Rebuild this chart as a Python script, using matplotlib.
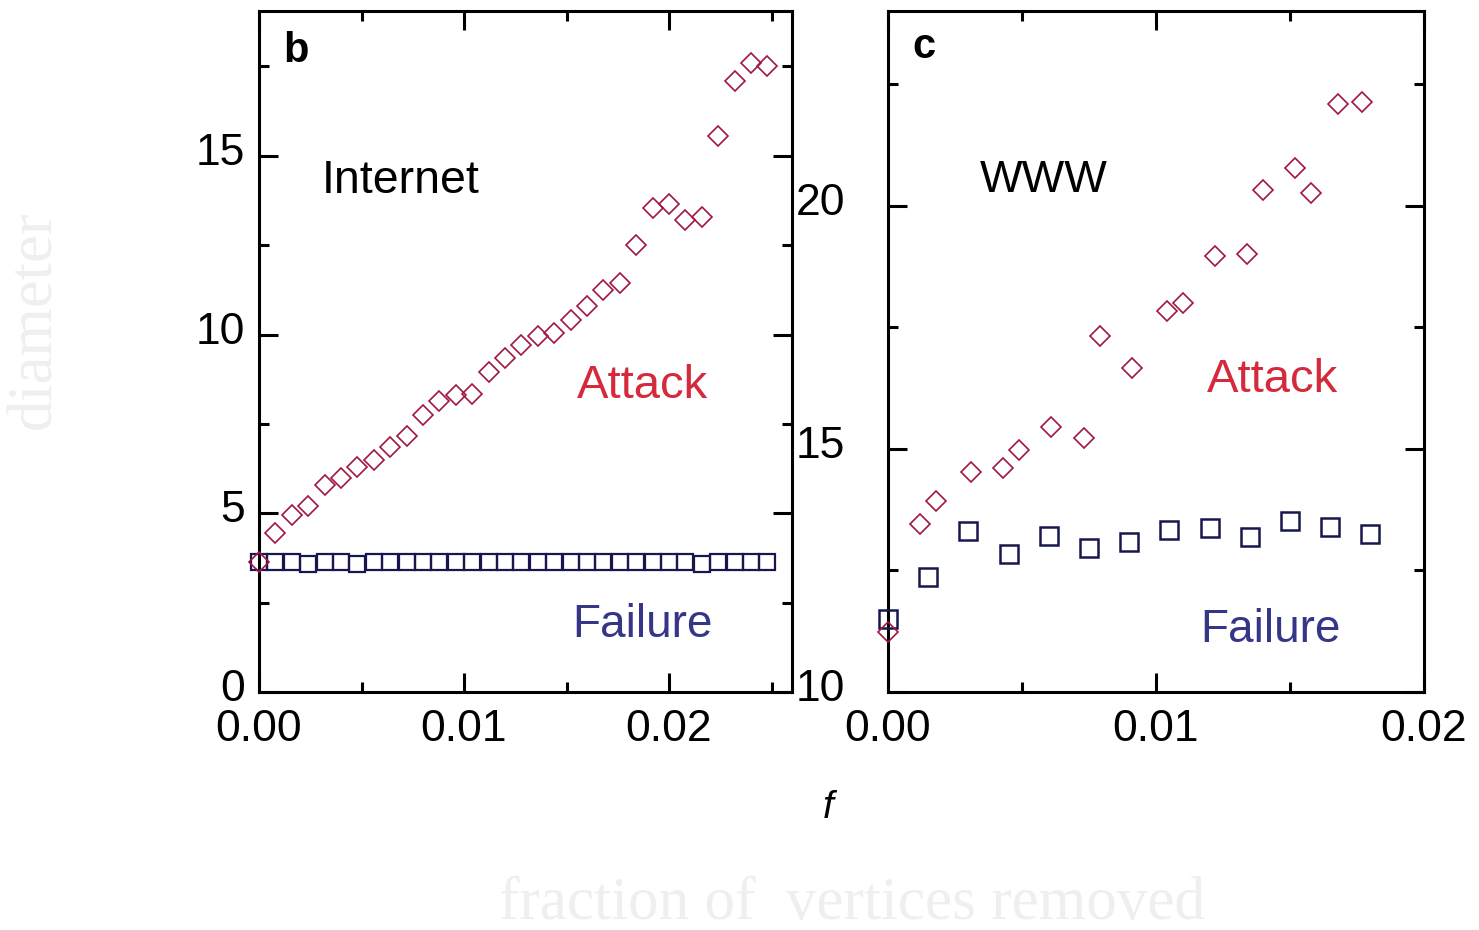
import matplotlib
matplotlib.use("Agg")
import matplotlib.pyplot as plt
import matplotlib.transforms as mtransforms
from matplotlib.ticker import MultipleLocator

plt.rcParams['font.family'] = ['Liberation Sans', 'DejaVu Sans']

# panel b: Internet
inet_f = [0.0, 0.0008, 0.0016, 0.0024, 0.0032, 0.0040, 0.0048, 0.0056,
          0.0064, 0.0072, 0.0080, 0.0088, 0.0096, 0.0104, 0.0112, 0.0120,
          0.0128, 0.0136, 0.0144, 0.0152, 0.0160, 0.0168, 0.0176, 0.0184,
          0.0192, 0.0200, 0.0208, 0.0216, 0.0224, 0.0232, 0.0240, 0.0248]
inet_attack = [3.65, 4.45, 4.95, 5.2, 5.8, 6.0, 6.3, 6.5,
               6.85, 7.15, 7.75, 8.15, 8.3, 8.35, 8.95, 9.35,
               9.7, 9.95, 10.05, 10.4, 10.8, 11.25, 11.45, 12.5,
               13.55, 13.65, 13.2, 13.3, 15.55, 17.1, 17.6, 17.5]
inet_failure = [3.65, 3.65, 3.65, 3.58, 3.65, 3.65, 3.58, 3.65,
                3.65, 3.65, 3.65, 3.65, 3.65, 3.65, 3.65, 3.65,
                3.65, 3.65, 3.65, 3.65, 3.65, 3.65, 3.65, 3.65,
                3.65, 3.65, 3.65, 3.58, 3.65, 3.65, 3.65, 3.65]

# panel c: WWW
www_attack_f = [0.0, 0.0012, 0.0018, 0.0031, 0.0043, 0.0049, 0.0061, 0.0073,
                0.0079, 0.0091, 0.0104, 0.0110, 0.0122, 0.0134, 0.0140, 0.0152,
                0.0158, 0.0168, 0.0177]
www_attack = [11.23, 13.46, 13.92, 14.52, 14.61, 14.98, 15.45, 15.22,
              17.32, 16.67, 17.83, 18.0, 18.96, 19.01, 20.31, 20.78,
              20.26, 22.08, 22.13]
www_failure_f = [0.0, 0.0015, 0.0030, 0.0045, 0.0060, 0.0075, 0.0090,
                 0.0105, 0.0120, 0.0135, 0.0150, 0.0165, 0.0180]
www_failure = [11.5, 12.37, 13.31, 12.84, 13.21, 12.96, 13.09,
               13.33, 13.37, 13.18, 13.51, 13.39, 13.24]

diamond_col = '#a3163f'
square_col = '#17174f'
attack_txt = '#d42a3c'
failure_txt = '#363688'
fs = 32

fig = plt.figure(figsize=(14.79, 9.30), dpi=100)
ax1 = fig.add_axes([259/1479, 1 - 692/930, 533/1479, 681/930])
ax2 = fig.add_axes([888/1479, 1 - 692/930, 536/1479, 681/930])


def style_axis(ax):
    for s in ax.spines.values():
        s.set_linewidth(2.2)
    ax.tick_params(which='both', direction='in', top=True, right=True,
                   width=2.2, labelsize=fs, pad=10)
    ax.tick_params(axis='x', pad=12)
    ax.tick_params(which='major', length=14)
    ax.tick_params(which='minor', length=7.5)
    ax.xaxis.set_major_locator(MultipleLocator(0.01))
    ax.xaxis.set_minor_locator(MultipleLocator(0.005))
    ax.yaxis.set_major_locator(MultipleLocator(5))
    ax.yaxis.set_minor_locator(MultipleLocator(2.5))
    ax.xaxis.set_major_formatter(plt.FuncFormatter(lambda v, p: '%.2f' % v))
    ax.yaxis.set_major_formatter(plt.FuncFormatter(lambda v, p: '%d' % round(v)))


# b
ax1.plot(inet_f, inet_failure, ls='none', marker='s', ms=12, mfc='none',
         mec=square_col, mew=1.6, clip_on=False, zorder=3)
ax1.plot(inet_f, inet_attack, ls='none', marker='D', ms=9.8, mfc='none',
         mec=diamond_col, mew=1.2, clip_on=False, zorder=4)
ax1.set_xlim(0, 0.026)
ax1.set_ylim(0, 19.05)
style_axis(ax1)
ax1.text(0.045, 0.925, 'b', transform=ax1.transAxes, fontsize=30,
         fontweight='bold')
ax1.text(0.118, 0.733, 'Internet', transform=ax1.transAxes, fontsize=33.5)
ax1.text(0.597, 0.432, 'Attack', transform=ax1.transAxes, fontsize=34,
         color=attack_txt)
ax1.text(0.587, 0.081, 'Failure', transform=ax1.transAxes, fontsize=33,
         color=failure_txt)

# c
ax2.plot(www_failure_f, www_failure, ls='none', marker='s', ms=12.5,
         mfc='none', mec=square_col, mew=1.8, clip_on=False, zorder=3)
ax2.plot(www_attack_f, www_attack, ls='none', marker='D', ms=10.2, mfc='none',
         mec=diamond_col, mew=1.2, clip_on=False, zorder=4)
ax2.set_xlim(0, 0.02)
ax2.set_ylim(10, 24.0)
style_axis(ax2)
ax2.tick_params(axis='y', pad=31)
ax2.text(0.045, 0.931, 'c', transform=ax2.transAxes, fontsize=30,
         fontweight='bold')
ax2.text(0.172, 0.734, 'WWW', transform=ax2.transAxes, fontsize=32.5)
ax2.text(0.595, 0.44, 'Attack', transform=ax2.transAxes, fontsize=34,
         color=attack_txt)
ax2.text(0.582, 0.073, 'Failure', transform=ax2.transAxes, fontsize=33,
         color=failure_txt)

fig.text(828/1479, 1 - 818/930, 'f', fontsize=28, style='italic',
         ha='center', va='baseline')
fig.text(852/1479, 0.012, 'fraction of  vertices removed', fontsize=44,
         family='Liberation Serif', color='#efefef', ha='center',
         va='baseline')
fig.text(35/1479, 1 - 320/930, 'diameter', fontsize=45, rotation=90,
         family='Liberation Serif', color='#efefef', ha='center',
         va='center')

# y tick digits sit a few pixels above their ticks in the original
fig.canvas.draw()
lift = mtransforms.ScaledTranslation(0, 7/100, fig.dpi_scale_trans)
for ax in (ax1, ax2):
    for t in ax.yaxis.get_major_ticks():
        t.label1.set_transform(t.label1.get_transform() + lift)

fig.savefig('out.png', dpi=100)
